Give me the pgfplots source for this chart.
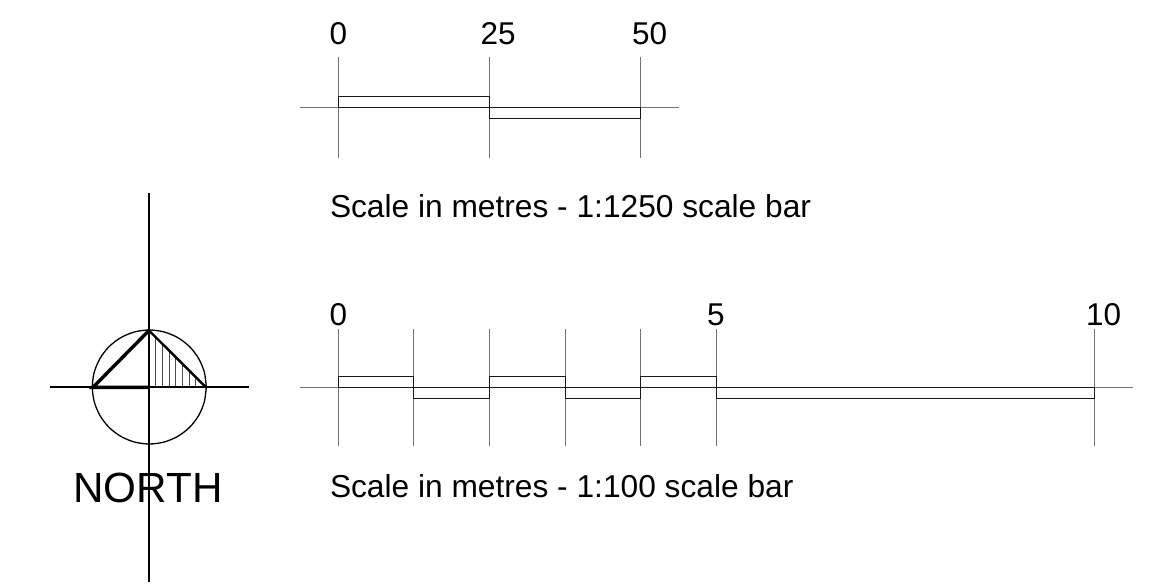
\documentclass[border=0pt]{standalone}
\usepackage{pgfplots}
\pgfplotsset{compat=1.18}
\usepackage{fontspec}
\setmainfont{Liberation Sans}
\pgfplotsset{
  fine/.style={no marks,line width=0.8pt,color=black!55},
  bar/.style={no marks,line width=0.9pt,color=black!90},
  thin circle/.style={no marks,line width=1.3pt,color=black},
  mid/.style={no marks,line width=1.8pt,color=black},
  heavy/.style={no marks,line width=3.4pt,color=black},
  medium/.style={no marks,line width=2.4pt,color=black},
  hatch/.style={no marks,line width=0.9pt,color=black!70},
}
\newcommand{\numfont}{\fontsize{31.5}{32}\selectfont}
\newcommand{\capfont}{\fontsize{31.7}{32}\selectfont}
\tikzset{lab/.style={anchor=base west,inner sep=0pt,outer sep=0pt}}
\begin{document}
\begin{tikzpicture}
\begin{axis}[
  scale only axis,width=1158pt,height=585pt,
  xmin=0,xmax=1158,ymin=0,ymax=585,y dir=reverse,
  hide axis,clip=false,
]
\path (axis cs:0,0) rectangle (axis cs:1158,585);
% top scale bar
\addplot[fine] coordinates {(300,107.7) (679,107.7)};
\addplot[fine] coordinates {(338.5,56.7) (338.5,158.3)};
\addplot[fine] coordinates {(489.7,56.7) (489.7,158.3)};
\addplot[fine] coordinates {(640.7,56.7) (640.7,158.3)};
\addplot[bar] coordinates {(338.5,107.7) (338.5,96.7) (489.7,96.7) (489.7,118.3) (640.7,118.3) (640.7,107.7) (338.5,107.7)};
% bottom scale bar
\addplot[fine] coordinates {(300,387.7) (1132.7,387.7)};
\addplot[fine] coordinates {(338.5,329) (338.5,445.7)};
\addplot[fine] coordinates {(413.7,329) (413.7,445.7)};
\addplot[fine] coordinates {(489.7,329) (489.7,445.7)};
\addplot[fine] coordinates {(565,329) (565,445.7)};
\addplot[fine] coordinates {(640.7,329) (640.7,445.7)};
\addplot[fine] coordinates {(716,329) (716,445.7)};
\addplot[fine] coordinates {(1094.3,329) (1094.3,445.7)};
\addplot[bar] coordinates {(338.5,387.7) (338.5,376.3) (413.7,376.3) (413.7,398.7) (489.7,398.7) (489.7,376.3) (565,376.3) (565,398.7) (640.7,398.7) (640.7,376.3) (716,376.3) (716,398.7) (1094.3,398.7) (1094.3,387.7) (338.5,387.7)};
% labels
\node[lab] at (axis cs:329.5,45) {\numfont 0};
\node[lab] at (axis cs:480.5,45) {\numfont 25};
\node[lab] at (axis cs:632,45) {\numfont 50};
\node[lab] at (axis cs:329.5,325.7) {\numfont 0};
\node[lab] at (axis cs:707,325.7) {\numfont 5};
\node[lab] at (axis cs:1086,325.7) {\numfont 10};
\node[lab] at (axis cs:330,217.3) {\capfont Scale in metres - 1:1250 scale bar};
\node[lab] at (axis cs:330,497.3) {\capfont Scale in metres - 1:100 scale bar};
\node[lab] at (axis cs:73.5,502.3) {\fontsize{42.2}{44}\selectfont NORTH};
% north sign
\addplot[thin circle,smooth] coordinates {
(206.3,387) (204.36,372.25) (198.66,358.5) (189.61,346.69) (177.8,337.64) (164.05,331.94)
(149.3,330) (134.55,331.94) (120.8,337.64) (108.99,346.69) (99.94,358.5) (94.24,372.25)
(92.3,387) (94.24,401.75) (99.94,415.5) (108.99,427.31) (120.8,436.36) (134.55,442.06)
(149.3,444) (164.05,442.06) (177.8,436.36) (189.61,427.31) (198.66,415.5) (204.36,401.75)
(206.3,387)
};
\addplot[hatch] coordinates {(155.7,337) (155.7,387)};
\addplot[hatch] coordinates {(162.7,344) (162.7,387)};
\addplot[hatch] coordinates {(169.3,350.5) (169.3,387)};
\addplot[hatch] coordinates {(175.7,357) (175.7,387)};
\addplot[hatch] coordinates {(182.7,364) (182.7,387)};
\addplot[hatch] coordinates {(189,370.5) (189,387)};
\addplot[hatch] coordinates {(195.7,377) (195.7,387)};
\addplot[mid] coordinates {(50,387.3) (249.3,387.3)};
\addplot[mid] coordinates {(149,193) (149,582)};
\addplot[heavy] coordinates {(149,387.3) (93,387.3) (149,330.5)};
\addplot[medium] coordinates {(149,330.5) (206,387.3)};
\end{axis}
\end{tikzpicture}
\end{document}
